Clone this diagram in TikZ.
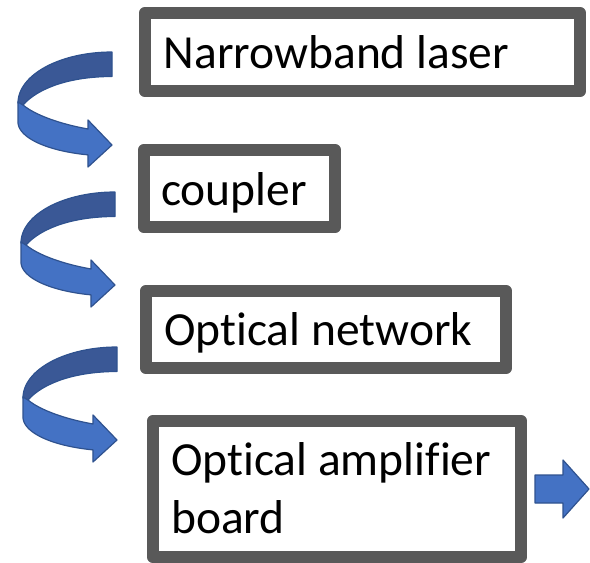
\documentclass[tikz,border=0pt]{standalone}
\usepackage{fontspec}
\setmainfont{Carlito}[Ligatures=NoCommon]
\definecolor{boxgray}{HTML}{595959}
\definecolor{arrowblue}{HTML}{4472C4}
\definecolor{arrowdark}{HTML}{3A5896}
\definecolor{arrowline}{HTML}{2F528F}
\tikzset{
  boxnode/.style={draw=boxgray, line width=12.5pt, line join=round, fill=white, inner sep=0pt, rectangle},
  lbl/.style={inner sep=0pt, anchor=base west, font=\fontsize{47.5}{58}\selectfont},
  arrowface/.style={fill=arrowblue, draw=arrowline, line width=1.2pt, line join=round},
  arrowback/.style={fill=arrowdark, draw=arrowline, line width=1.2pt, line join=round},
}
\begin{document}
\begin{tikzpicture}[x=1pt,y=-1pt]
\useasboundingbox (0,0) rectangle (590,563);
% boxes
\node[boxnode, minimum width=435pt, minimum height=78pt] (b1) at (362.5,52) {};
\node[boxnode, minimum width=191pt, minimum height=77pt] (b2) at (239.5,188.5) {};
\node[boxnode, minimum width=360pt, minimum height=77pt] (b3) at (326,329.5) {};
\node[boxnode, minimum width=368pt, minimum height=136pt] (b4) at (337,489) {};
% texts
\node[lbl] (t1) at (163.5,68) {Narrowband laser};
\node[lbl] (t2) at (161,205) {coupler};
\node[lbl] (t3) at (164,345) {Optical network};
\node[lbl] (t4) at (171,475) {\begin{tabular}[t]{@{}l@{}}Optical amplifier\\board\end{tabular}};
% curved arrows
\foreach \dx/\dy in {0/0,3/140,5/295}{
  \begin{scope}[shift={(\dx,\dy)}]
    \draw[arrowback] plot[domain=270:180, samples=40, variable=\t] ({112+94*cos(\t)},{103+51*sin(\t)})
      -- (23,105) .. controls (38,88) and (70,76.5) .. (112,76.5) -- cycle;
    \draw[arrowface] (18,102) -- (18,122)
      -- plot[domain=180:104.8, samples=40, variable=\t] ({112+94*cos(\t)},{122+34*sin(\t)})
      -- (88,167) -- (112,145) -- (88,120) -- (88,129)
      .. controls (60,124) and (35,115) .. (23,105) -- cycle;
  \end{scope}
}
% straight arrow
\draw[arrowface] (535,475) -- (563,475) -- (563,460) -- (589,489) -- (563,518) -- (563,503) -- (535,503) -- cycle;
\end{tikzpicture}
\end{document}
